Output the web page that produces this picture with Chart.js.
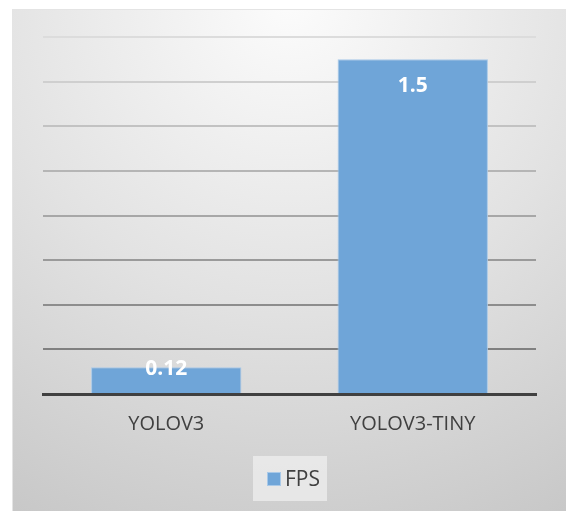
<!DOCTYPE html>
<html>
<head>
<meta charset="utf-8">
<script src="https://cdn.jsdelivr.net/npm/chart.js@4"></script>
<style>
    html, body { margin: 0; padding: 0; background: #ffffff; }
    #wrap { width: 566px; height: 511px; }
</style>
</head>
<body>
<div id="wrap"><canvas id="chart" width="566" height="511"></canvas></div>
<script>
// chart data
const categories = ['YOLOV3', 'YOLOV3-TINY'];
const fpsValues = [0.12, 1.5];
const seriesName = 'FPS';

const barColor = '#6fa5d8';
const textColor = '#404040';
const fontFamily = '"Open Sans", "Liberation Sans", sans-serif';

// gray gradient panel behind everything
const panelPlugin = {
    id: 'panel',
    beforeDraw(chart) {
        const ctx = chart.ctx;
        ctx.save();
        ctx.fillStyle = '#ffffff';
        ctx.fillRect(0, 0, chart.width, chart.height);
        const grad = ctx.createRadialGradient(290, 0, 10, 290, 0, 600);
        grad.addColorStop(0, '#fbfbfb');
        grad.addColorStop(0.5, '#e2e2e2');
        grad.addColorStop(1, '#c6c6c6');
        ctx.fillStyle = grad;
        ctx.fillRect(12, 9, chart.width - 12, chart.height - 9);
        ctx.strokeStyle = '#e4e4e4';
        ctx.lineWidth = 1;
        ctx.beginPath();
        ctx.moveTo(12.5, 9);
        ctx.lineTo(12.5, chart.height);
        ctx.moveTo(12, 9.5);
        ctx.lineTo(chart.width, 9.5);
        ctx.stroke();
        ctx.restore();
    }
};

// white value labels inside the bars
const valueLabels = {
    id: 'valueLabels',
    afterDatasetsDraw(chart) {
        const ctx = chart.ctx;
        const meta = chart.getDatasetMeta(0);
        ctx.save();
        ctx.fillStyle = '#ffffff';
        ctx.font = 'bold 21px ' + fontFamily;
        ctx.textAlign = 'center';
        ctx.textBaseline = 'middle';
        meta.data.forEach((bar, i) => {
            const y = Math.min(bar.y + 27, bar.base - 24);
            ctx.fillText(String(fpsValues[i]), bar.x, y);
        });
        ctx.restore();
    }
};

// legend with its own light box, like the original
const legendBox = {
    id: 'legendBox',
    afterDraw(chart) {
        const ctx = chart.ctx;
        const ds = chart.data.datasets[0];
        const x0 = 253;
        const cy = 479;
        ctx.save();
        ctx.font = '21px ' + fontFamily;
        const tw = ctx.measureText(ds.label).width;
        ctx.fillStyle = 'rgba(235,235,235,0.85)';
        ctx.fillRect(x0, 456, 74, 45);
        ctx.fillStyle = ds.backgroundColor;
        ctx.strokeStyle = '#a9c9e8';
        ctx.fillRect(x0 + 14, cy - 7, 14, 14);
        ctx.strokeRect(x0 + 14.5, cy - 6.5, 13, 13);
        ctx.fillStyle = textColor;
        ctx.textBaseline = 'middle';
        ctx.fillText(ds.label, x0 + 14 + 14 + 4, cy + 1);
        ctx.restore();
    }
};

function gridColor(ctx) {
    const v = ctx.tick ? ctx.tick.value : 0;
    if (v === 0) return 'rgba(0,0,0,0)';
    const t = (v - 0.2) / 1.4;
    const c = Math.round(128 + t * 92);
    return `rgb(${c},${c},${c})`;
}

new Chart(document.getElementById('chart'), {
    type: 'bar',
    data: {
        labels: categories,
        datasets: [{
            label: seriesName,
            data: fpsValues,
            backgroundColor: barColor,
            borderColor: '#a9c9e8',
            borderWidth: 1,
            barPercentage: 0.61,
            categoryPercentage: 1
        }]
    },
    options: {
        responsive: false,
        animation: false,
        layout: { padding: { left: 43, right: 30, top: 37, bottom: 67 } },
        plugins: {
            legend: { display: false },
            tooltip: { enabled: false }
        },
        scales: {
            x: {
                grid: { display: false, drawTicks: false },
                border: { display: true, color: '#404040', width: 3 },
                ticks: {
                    color: textColor,
                    font: { family: fontFamily, size: 20 },
                    padding: 18
                },
                afterFit(scale) { scale.height = 50; }
            },
            y: {
                min: 0,
                max: 1.6,
                ticks: { display: false, stepSize: 0.2 },
                grid: { color: gridColor, lineWidth: 2, drawTicks: false },
                border: { display: false },
                afterFit(scale) { scale.width = 0; }
            }
        }
    },
    plugins: [panelPlugin, valueLabels, legendBox]
});
</script>
</body>
</html>
